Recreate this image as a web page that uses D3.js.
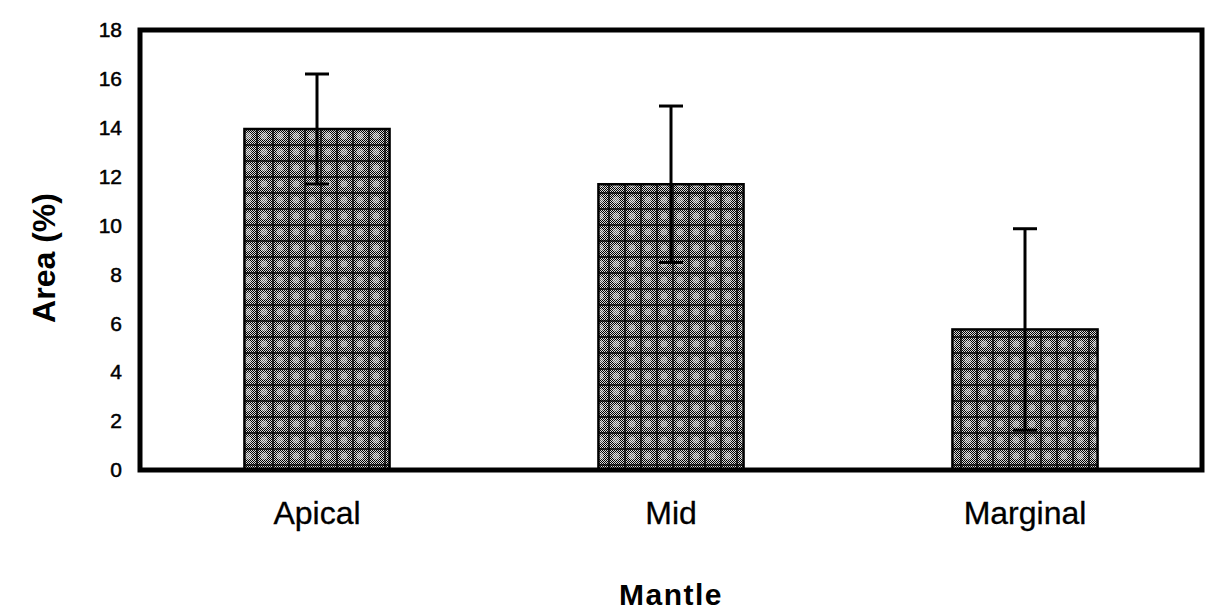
<!DOCTYPE html>
<html>
<head>
<meta charset="utf-8">
<script src="https://cdn.jsdelivr.net/npm/d3@7"></script>
<style>
  html, body { margin: 0; padding: 0; background: #fff; }
  svg { display: block; font-family: "Liberation Sans", Arial, sans-serif; }
</style>
</head>
<body>
<svg id="chart" width="1211" height="615"></svg>
<script>
const categories = ["Apical", "Mid", "Marginal"];
const means = [13.95, 11.69, 5.75];
const errors = [2.25, 3.2, 4.12];
const yTicks = [0, 2, 4, 6, 8, 10, 12, 14, 16, 18];
const xTitle = "Mantle";
const yTitle = "Area (%)";

const svg = d3.select("#chart");
const margin = { left: 140, right: 9, top: 30, bottom: 145 };
const W = 1211, H = 615;

const x = d3.scaleBand().domain(categories).range([margin.left, W - margin.right]).paddingInner(0.59).paddingOuter(0.295);
const y = d3.scaleLinear().domain([0, 18]).range([H - margin.bottom, margin.top]);

// patterns
const defs = svg.append("defs");
const dither = defs.append("pattern").attr("id", "dither").attr("patternUnits", "userSpaceOnUse")
  .attr("width", 2).attr("height", 2);
dither.append("rect").attr("width", 2).attr("height", 2).attr("fill", "#fff");
dither.append("rect").attr("x", 0).attr("y", 0).attr("width", 1).attr("height", 1).attr("fill", "#000");
dither.append("rect").attr("x", 1).attr("y", 1).attr("width", 1).attr("height", 1).attr("fill", "#000");

const grid = defs.append("pattern").attr("id", "grid").attr("patternUnits", "userSpaceOnUse")
  .attr("width", 16).attr("height", 16);
grid.append("rect").attr("width", 16).attr("height", 16).attr("fill", "url(#dither)");
grid.append("rect").attr("width", 16).attr("height", 16).attr("fill", "#000").attr("opacity", 0.15);
grid.append("circle").attr("cx", 8).attr("cy", 8).attr("r", 3.5).attr("fill", "#fff").attr("opacity", 0.4);
grid.append("rect").attr("x", 0).attr("y", 0).attr("width", 16).attr("height", 2).attr("fill", "#000").attr("opacity", 0.7);
grid.append("rect").attr("x", 0).attr("y", 0).attr("width", 2).attr("height", 16).attr("fill", "#000").attr("opacity", 0.7);

// bars
svg.append("g").selectAll("rect").data(categories).join("rect")
  .attr("x", d => x(d))
  .attr("y", (d, i) => y(means[i]))
  .attr("width", x.bandwidth())
  .attr("height", (d, i) => y(0) - y(means[i]))
  .attr("fill", "url(#grid)")
  .attr("stroke", "#000")
  .attr("stroke-width", 2.5);

// error bars
const eb = svg.append("g").attr("stroke", "#000").attr("stroke-width", 3);
categories.forEach((c, i) => {
  const cx = x(c) + x.bandwidth() / 2;
  const lo = y(means[i] - errors[i]), hi = y(means[i] + errors[i]);
  eb.append("line").attr("x1", cx).attr("x2", cx).attr("y1", lo).attr("y2", hi);
  eb.append("line").attr("x1", cx - 12).attr("x2", cx + 12).attr("y1", hi).attr("y2", hi);
  eb.append("line").attr("x1", cx - 12).attr("x2", cx + 12).attr("y1", lo).attr("y2", lo);
});

// frame
svg.append("rect")
  .attr("x", margin.left).attr("y", margin.top)
  .attr("width", W - margin.right - margin.left)
  .attr("height", y(0) - margin.top)
  .attr("fill", "none").attr("stroke", "#000").attr("stroke-width", 5);

// y axis
const yAxis = d3.axisLeft(y).tickValues(yTicks).tickSize(0).tickPadding(18).tickFormat(d3.format("d"));
const yg = svg.append("g").attr("transform", `translate(${margin.left},0)`).call(yAxis);
yg.select(".domain").remove();
yg.selectAll("text").attr("font-size", 21).attr("fill", "#000")
  .attr("stroke", "#000").attr("stroke-width", 0.5)
  .attr("font-family", "Liberation Sans, Arial, sans-serif");

// x axis
const xAxis = d3.axisBottom(x).tickSize(0).tickPadding(31);
const xg = svg.append("g").attr("transform", `translate(0,${y(0)})`).call(xAxis);
xg.select(".domain").remove();
xg.selectAll("text").attr("font-size", 32).attr("fill", "#000")
  .attr("stroke", "#000").attr("stroke-width", 0.3)
  .attr("font-family", "Liberation Sans, Arial, sans-serif");

// titles
svg.append("text").attr("x", (margin.left + W - margin.right) / 2).attr("y", 605)
  .attr("text-anchor", "middle").attr("font-size", 30).attr("font-weight", "bold")
  .attr("letter-spacing", 1.5).text(xTitle);
svg.append("text").attr("transform", `translate(55,${(margin.top + y(0)) / 2 + 8}) rotate(-90)`)
  .attr("text-anchor", "middle").attr("font-size", 32).attr("font-weight", "bold")
  .text(yTitle);
</script>
</body>
</html>
